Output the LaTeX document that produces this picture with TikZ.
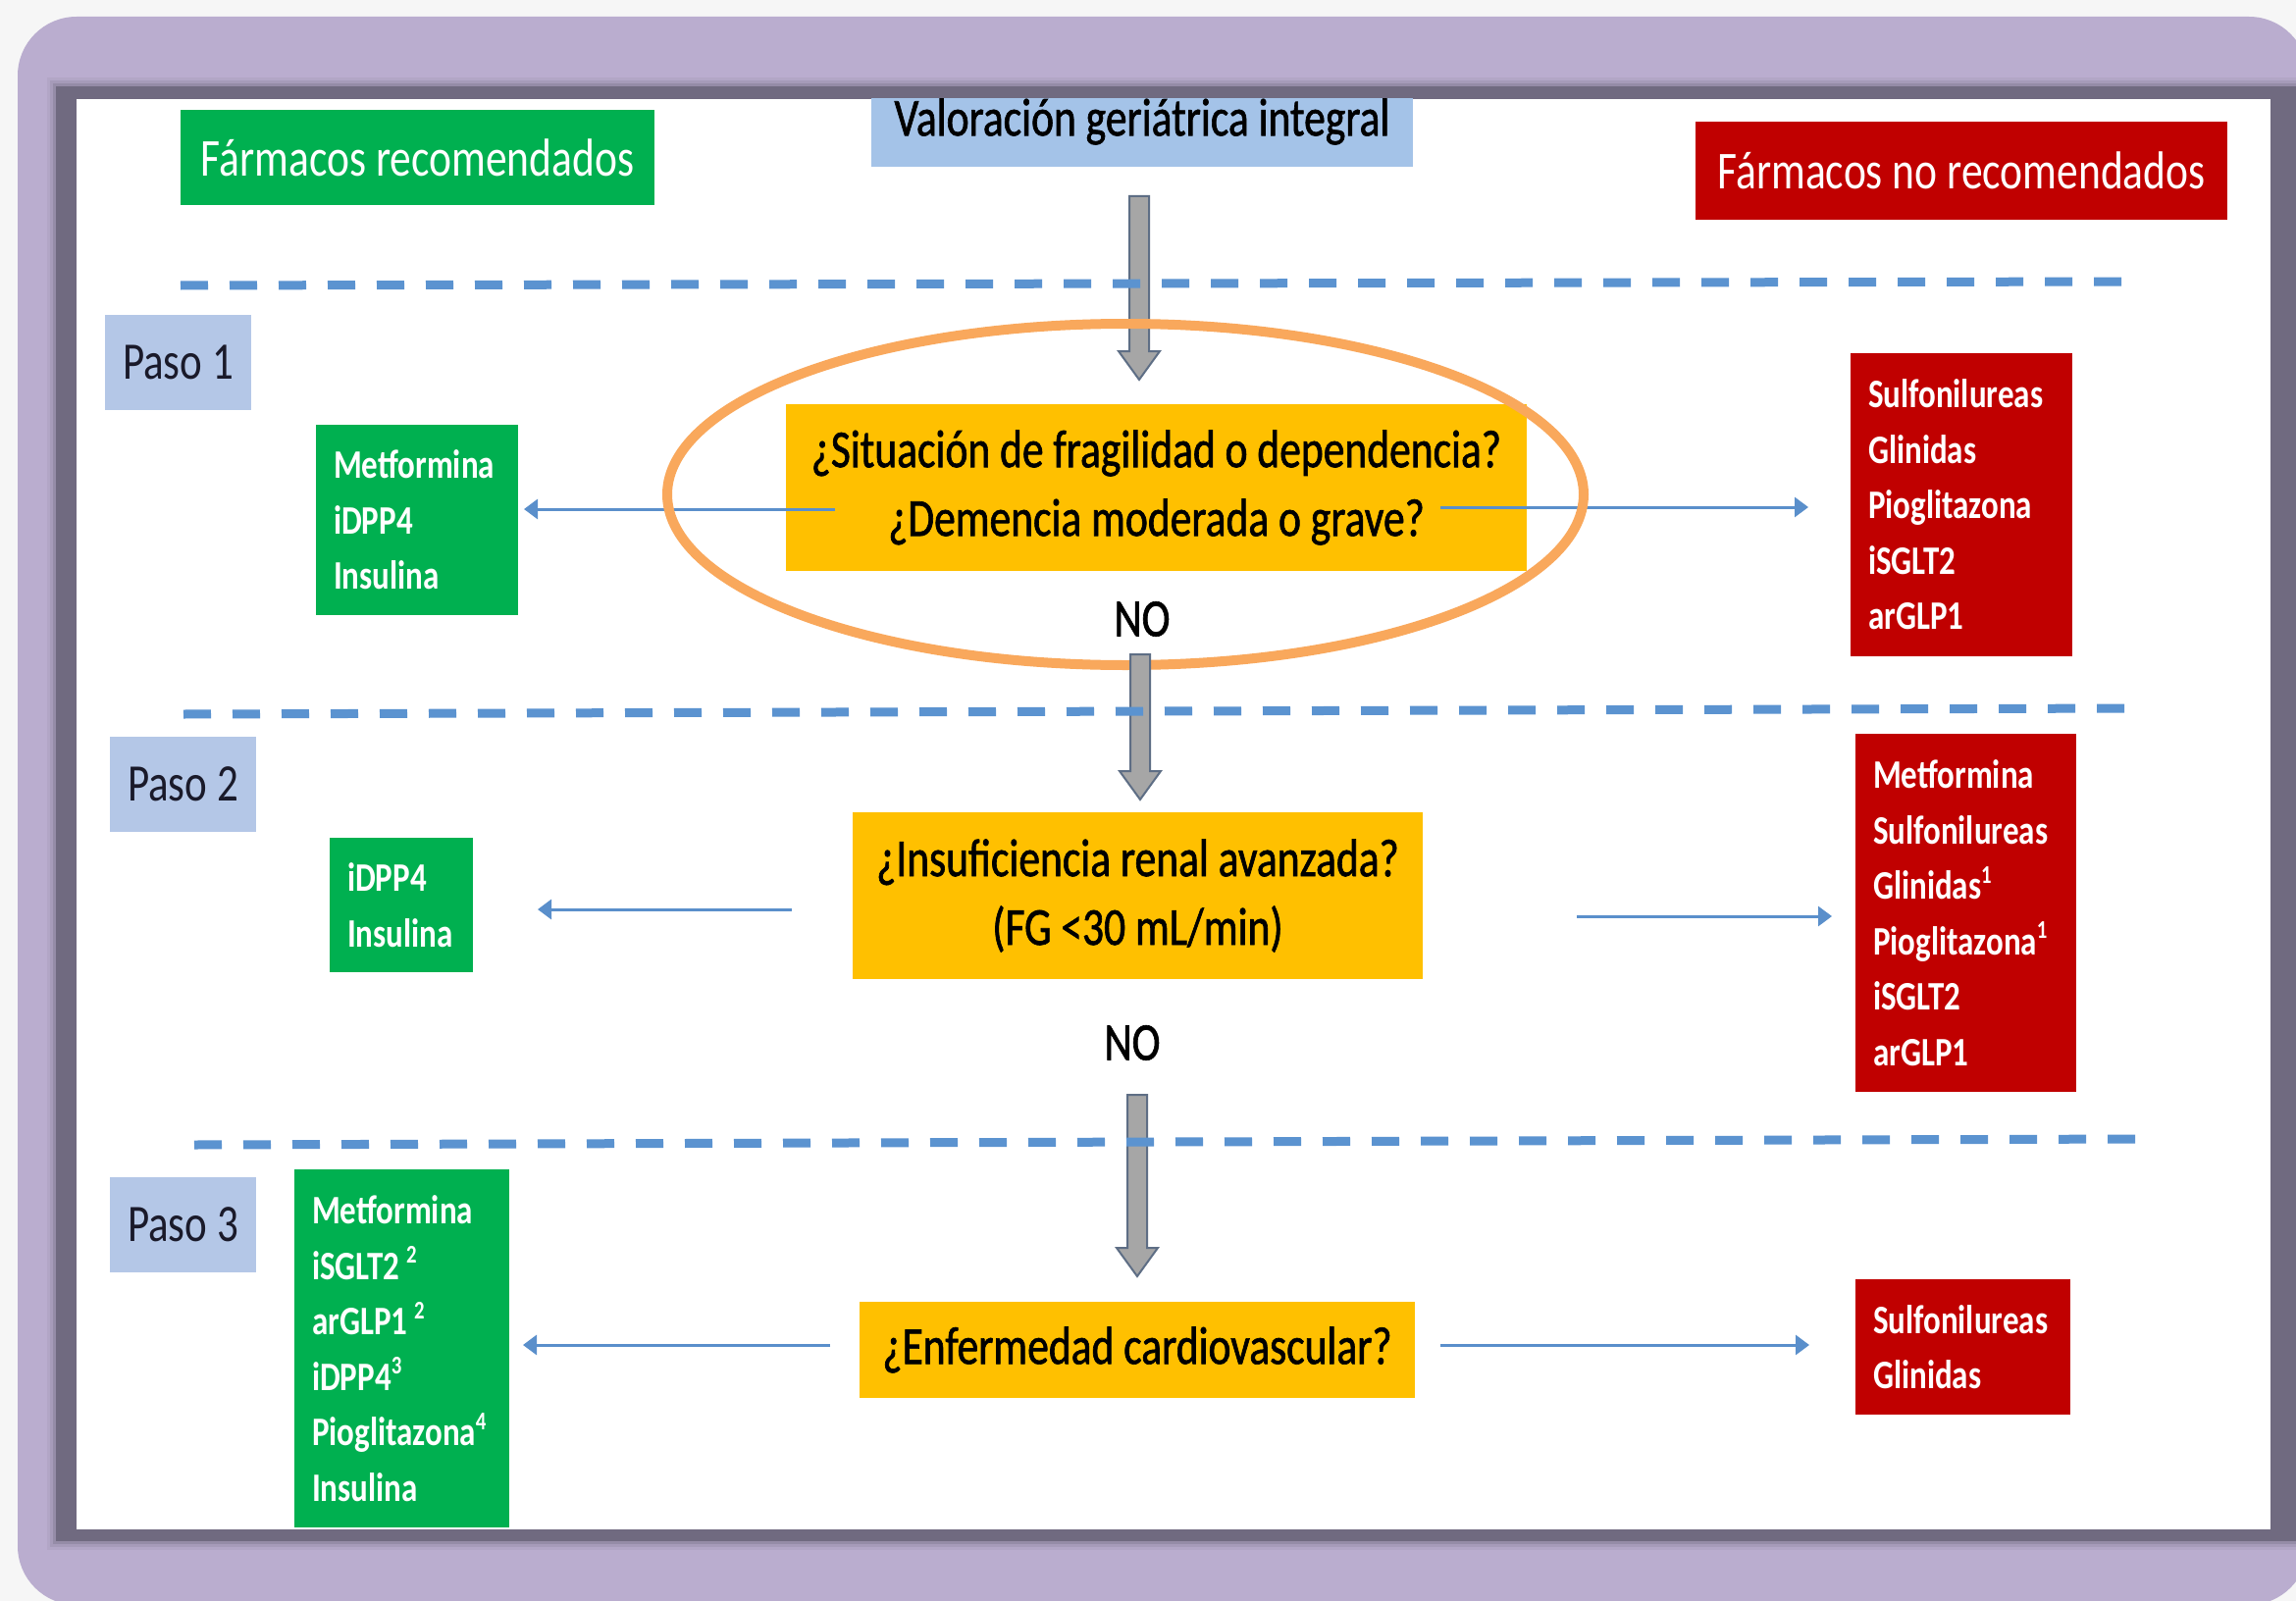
\documentclass[tikz,border=0pt]{standalone}
\usepackage{fontspec}
\setmainfont{Carlito}[FakeStretch=0.8]
\newfontfamily\heavyface{Carlito}[FakeStretch=0.8, FakeBold=1.2]
\usetikzlibrary{arrows.meta,calc}

\definecolor{pagebg}{HTML}{F6F6F6}
\definecolor{lilac}{HTML}{BAADCF}
\definecolor{frameshade}{HTML}{706A80}
\definecolor{okgreen}{HTML}{00B050}
\definecolor{nored}{HTML}{C00000}
\definecolor{headblue}{HTML}{A4C3E8}
\definecolor{stepblue}{HTML}{B4C7E7}
\definecolor{askyellow}{HTML}{FFC000}
\definecolor{ringorange}{HTML}{F9A85C}
\definecolor{rulerblue}{HTML}{5B93D0}
\definecolor{linkblue}{HTML}{5A8FCB}
\definecolor{shaftgray}{HTML}{A6A6A6}
\definecolor{shaftedge}{HTML}{5E6E85}
\definecolor{inkdark}{HTML}{1A1A2A}

% fonts used in the chart (narrow, tall lettering)
\newcommand\bigfont{\fontsize{54.4}{70}\selectfont}
\newcommand\askfont{\heavyface\fontsize{54.4}{70}\selectfont}
\newcommand\listfont{\fontsize{41.25}{56.5}\selectfont\bfseries}
\newcommand\sups[1]{\raisebox{0.40em}{\fontsize{26}{26}\selectfont #1}}

% vertical block arrow from #1 (top) down to #2 (tip)
\newcommand\downblock[2]{%
  \draw[fill=shaftgray, draw=shaftedge, line width=2pt, line join=miter]
    let \p1=(#1), \p2=(#2) in
    (\x1-10pt,\y1) -- (\x1+10pt,\y1) -- (\x1+10pt,\y2+29pt) --
    (\x1+21pt,\y2+29pt) -- (\x1,\y2) -- (\x1-21pt,\y2+29pt) --
    (\x1-10pt,\y2+29pt) -- cycle;}

\begin{document}
\begin{tikzpicture}[x=1pt,y=-1pt,
  boxbase/.style={anchor=north west, inner sep=0pt, outer sep=0pt},
  header/.style={boxbase, font=\bigfont, text=white},
  stepbox/.style={boxbase, fill=stepblue, font=\fontsize{53.75}{60}\selectfont,
    text=inkdark, minimum width=149pt, minimum height=97pt},
  askbox/.style={boxbase, fill=askyellow, font=\askfont, text=black, align=center},
  druglist/.style={boxbase, font=\listfont, text=white, align=left,
    inner xsep=18pt, inner ysep=0pt},
  goodlist/.style={druglist, fill=okgreen},
  badlist/.style={druglist, fill=nored},
  answer/.style={font=\askfont, text=black, inner sep=0pt},
  ruler/.style={rulerblue, line width=9pt, dash pattern=on 28pt off 22pt},
  link/.style={linkblue, line width=3pt, -{Triangle[length=14pt,width=20pt]}}
]
\useasboundingbox (0,0) rectangle (2340,1632);

% page, lilac card and the dark frame round the chart
\fill[pagebg] (0,0) rectangle (2340,1632);
\fill[lilac, rounded corners=60pt] (18,17) rectangle (2352,1636);
\foreach \d/\o in {9/0.10,6/0.18,3/0.30}
  \fill[frameshade, opacity=\o] ({57-\d},{88-\d}) rectangle (2400,{1571+\d});
\fill[frameshade] (57,88) rectangle (2400,1571);
\fill[white] (78,101) rectangle (2314,1559);

\begin{scope}
\clip (78,101) rectangle (2314,1559);

% column headers
\node[header, fill=okgreen, minimum width=483pt, minimum height=97pt] (hgood)
  at (184,112) {Fármacos recomendados};
\node[header, fill=headblue, text=black, font=\askfont, minimum width=552pt, minimum height=92pt] (val)
  at (888,78) {Valoración geriátrica integral};
\node[header, fill=nored, minimum width=542pt, minimum height=100pt] (hbad)
  at (1728,124) {Fármacos no recomendados};

% step labels
\node[stepbox] (p1) at (107,321) {Paso 1};
\node[stepbox] (p2) at (112,751) {Paso 2};
\node[stepbox] (p3) at (112,1200) {Paso 3};

% questions
\node[askbox, minimum width=755pt, minimum height=170pt] (q1) at (801,412)
  {¿Situación de fragilidad o dependencia?\\¿Demencia moderada o grave?};
\node[askbox, minimum width=581pt, minimum height=170pt] (q2) at (869,828)
  {¿Insuficiencia renal avanzada?\\(FG <30 mL/min)};
\node[askbox, minimum width=566pt, minimum height=98pt] (q3) at (876,1327)
  {¿Enfermedad cardiovascular?};

\node[answer] (no1) at (1164,631) {NO};
\node[answer] (no2) at (1154,1063) {NO};

% recommended drugs
\node[goodlist, text width=170pt, minimum height=194pt] (g1) at (322,433)
  {Metformina\\iDPP4\\Insulina};
\node[goodlist, text width=110pt, minimum height=137pt] (g2) at (336,854)
  {iDPP4\\Insulina};
\node[goodlist, text width=183pt, minimum height=365pt] (g3) at (300,1192)
  {Metformina\\iSGLT2\,\sups{2}\\arGLP1\,\sups{2}\\iDPP4\sups{3}\\Pioglitazona\sups{4}\\Insulina};

% drugs to avoid
\node[badlist, text width=190pt, minimum height=309pt] (r1) at (1886,360)
  {Sulfonilureas\\Glinidas\\Pioglitazona\\iSGLT2\\arGLP1};
\node[badlist, text width=189pt, minimum height=365pt] (r2) at (1891,748)
  {Metformina\\Sulfonilureas\\Glinidas\sups{1}\\Pioglitazona\sups{1}\\iSGLT2\\arGLP1};
\node[badlist, text width=183pt, minimum height=138pt] (r3) at (1891,1304)
  {Sulfonilureas\\Glinidas};

% side arrows
\coordinate (l1s) at (851,519);  \coordinate (l1e) at ([xshift=6pt]g1.east |- l1s);
\coordinate (r1s) at (1468,517); \coordinate (r1e) at ([xshift=-43pt]r1.west |- r1s);
\coordinate (l2s) at (807,927);  \coordinate (l2e) at ([xshift=66pt]g2.east |- l2s);
\coordinate (r2s) at (1607,934); \coordinate (r2e) at ([xshift=-24pt]r2.west |- r2s);
\coordinate (l3s) at (846,1371); \coordinate (l3e) at ([xshift=14pt]g3.east |- l3s);
\coordinate (r3s) at (1468,1371);\coordinate (r3e) at ([xshift=-47pt]r3.west |- r3s);
\draw[link] (l1s) -- (l1e);
\draw[link] (r1s) -- (r1e);
\draw[link] (l2s) -- (l2e);
\draw[link] (r2s) -- (r2e);
\draw[link] (l3s) -- (l3e);
\draw[link] (r3s) -- (r3e);

% main flow arrows
\coordinate (a1s) at (1161,200);  \coordinate (a1e) at (1161,387);
\coordinate (a2s) at (1162,667);  \coordinate (a2e) at (1162,815);
\coordinate (a3s) at (1159,1116); \coordinate (a3e) at (1159,1301);
\downblock{a1s}{a1e}

% highlight ring round the first question
\draw[ringorange, line width=10pt] (1147,504) ellipse [x radius=467, y radius=174];

\downblock{a2s}{a2e}
\downblock{a3s}{a3e}

% step separators
\draw[ruler] (184,291) -- (2171,287);
\draw[ruler] (187,728) -- (2176,722);
\draw[ruler] (198,1167) -- (2188,1161);
\end{scope}
\end{tikzpicture}
\end{document}
